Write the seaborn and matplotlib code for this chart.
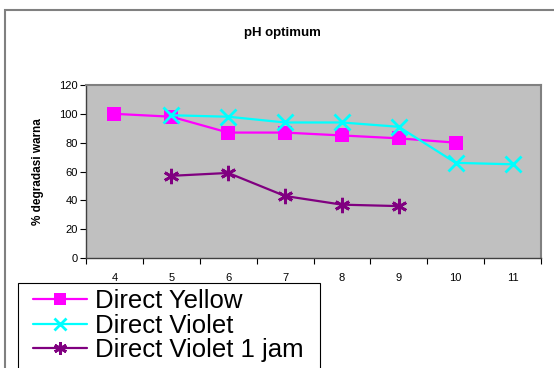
import matplotlib
matplotlib.use("Agg")
import matplotlib.pyplot as plt
from matplotlib.patches import Rectangle
from matplotlib.lines import Line2D
import seaborn as sns
import pandas as pd

# pH values and percentage colour degradation per dye
ph_yellow = [4, 5, 6, 7, 8, 9, 10]
yellow = [100, 98, 87, 87, 85, 83, 80]

ph_violet = [5, 6, 7, 8, 9, 10, 11]
violet = [99, 98, 94, 94, 91, 66, 65]

ph_violet_1h = [5, 6, 7, 8, 9]
violet_1h = [57, 59, 43, 37, 36]

series_names = ["Direct Yellow", "Direct Violet", "Direct Violet 1 jam"]
x_ticks = [4, 5, 6, 7, 8, 9, 10, 11]
y_ticks = [0, 20, 40, 60, 80, 100, 120]

df = pd.concat([
    pd.DataFrame({"pH": ph_yellow, "val": yellow, "dye": series_names[0]}),
    pd.DataFrame({"pH": ph_violet, "val": violet, "dye": series_names[1]}),
    pd.DataFrame({"pH": ph_violet_1h, "val": violet_1h, "dye": series_names[2]}),
])

sns.set_style("white")
plt.rcParams["font.family"] = ["Liberation Sans", "DejaVu Sans"]
plt.rcParams.update({"text.color": "black", "axes.labelcolor": "black",
                     "xtick.color": "black", "ytick.color": "black"})

colors = {series_names[0]: "#FF00FF", series_names[1]: "#00FFFF", series_names[2]: "#800080"}
markers = {series_names[0]: "s", series_names[1]: "x", series_names[2]: (6, 2, 0)}
msizes = {series_names[0]: 9.5, series_names[1]: 11, series_names[2]: 11}

fig = plt.figure(figsize=(5.54, 3.68), dpi=100)
fig.patch.set_facecolor("white")
ax = fig.add_axes([86 / 554, 1 - 258 / 368, (541 - 86) / 554, (258 - 85) / 368])
ax.set_facecolor("#C0C0C0")

for name in series_names:
    sub = df[df["dye"] == name]
    sns.lineplot(data=sub, x="pH", y="val", ax=ax, color=colors[name],
                 marker=markers[name], markersize=msizes[name],
                 markeredgewidth=2 if name != series_names[0] else 0,
                 markeredgecolor=colors[name], linewidth=1.6, legend=False)

ax.set_xlim(3.5, 11.5)
ax.set_ylim(0, 120)
ax.set_xticks(x_ticks)
ax.set_xticklabels([str(t) for t in x_ticks], fontsize=8)
ax.set_xticks([t - 0.5 for t in x_ticks] + [11.5], minor=True)
ax.set_yticks(y_ticks)
ax.set_yticklabels([str(t) for t in y_ticks], fontsize=8)
ax.tick_params(axis="x", which="major", length=0, pad=11)
ax.tick_params(axis="x", which="minor", length=4, width=0.8, direction="out", color="black", bottom=True)
ax.tick_params(axis="y", length=4, width=0.8, direction="out", color="black", left=True, pad=2)
ax.set_xlabel("")
ax.set_ylabel("% degradasi warna", fontsize=8.5, fontweight="bold", labelpad=11)

for side in ["top", "right"]:
    ax.spines[side].set_color("#808080")
    ax.spines[side].set_linewidth(1.5)
for side in ["left", "bottom"]:
    ax.spines[side].set_color("#404040")
    ax.spines[side].set_linewidth(1.0)

fig.text(282 / 554, 1 - 33 / 368, "pH optimum",
         ha="center", va="center", fontsize=9.5, fontweight="bold")

# outer chart frame
fig.add_artist(Rectangle((5 / 554, -0.2), 1.2, 1 - 10 / 368 + 0.2, transform=fig.transFigure,
                         fill=False, edgecolor="#808080", linewidth=1.5, zorder=0))

# legend box, running off the bottom edge
fig.add_artist(Rectangle((18 / 554, -0.2), (320 - 18) / 554, 1 - 283 / 368 + 0.2,
                         transform=fig.transFigure, facecolor="white",
                         edgecolor="black", linewidth=0.8, zorder=2))

handles = [Line2D([0], [0], color=colors[n], marker=markers[n], markersize=msizes[n] * 0.85,
                  markeredgewidth=2 if n != series_names[0] else 0, markeredgecolor=colors[n],
                  linewidth=1.6) for n in series_names]
leg = fig.legend(handles, series_names, loc="upper left",
                 bbox_to_anchor=(33 / 554, 1 - 289 / 368), fontsize=18.5,
                 frameon=False, labelspacing=0.02, handlelength=2.1,
                 handletextpad=0.3, borderpad=0.0, borderaxespad=0)
leg.set_zorder(3)

fig.savefig("out.png", dpi=100)
